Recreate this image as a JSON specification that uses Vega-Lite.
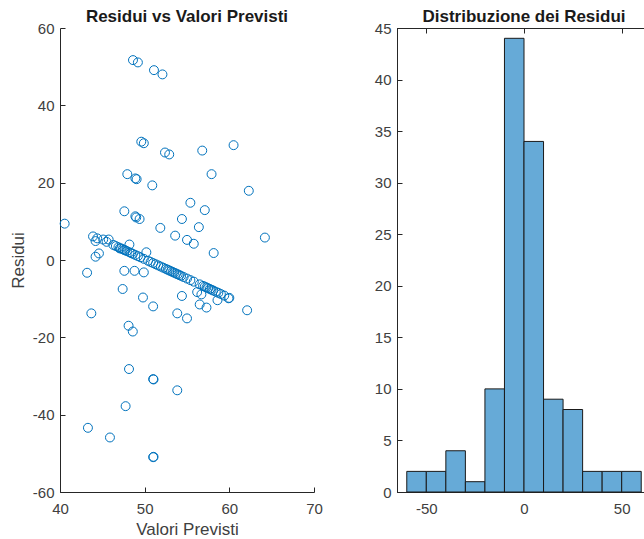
{
  "$schema": "https://vega.github.io/schema/vega-lite/v6.json",
  "autosize": {"type": "pad"},
  "padding": {"left": 9, "top": 7, "right": 0, "bottom": 0},
  "background": "white",
  "config": {
    "font": "Liberation Sans",
    "axis": {
      "grid": false,
      "domainColor": "#262626",
      "domainWidth": 1,
      "tickColor": "#262626",
      "tickSize": -5,
      "labelPadding": 11,
      "labelFlush": false,
      "labelColor": "#404040",
      "labelFontSize": 15,
      "labelFont": "Liberation Sans",
      "labelExpr": "'' + datum.value",
      "titleFont": "Liberation Sans",
      "titleFontSize": 17,
      "titleFontWeight": "normal",
      "titleColor": "#404040"
    },
    "axisX": {"labelPadding": 14, "labelFlush": false},
    "title": {"font": "Liberation Sans", "fontSize": 17, "fontWeight": "bold", "color": "#1a1a1a", "offset": -5, "anchor": "middle"}
  },
  "datasets": {
    "scatter": [
      {"v": 48.62, "r": 51.7}, {"v": 49.2, "r": 51.1}, {"v": 51.1, "r": 49.1}, {"v": 52.1, "r": 48.0},
      {"v": 49.6, "r": 30.6}, {"v": 49.9, "r": 30.2}, {"v": 52.4, "r": 27.8}, {"v": 52.9, "r": 27.3},
      {"v": 56.8, "r": 28.3}, {"v": 60.5, "r": 29.7}, {"v": 47.95, "r": 22.2}, {"v": 48.9, "r": 21.1},
      {"v": 49.05, "r": 20.9}, {"v": 50.9, "r": 19.3}, {"v": 57.9, "r": 22.2}, {"v": 62.3, "r": 17.9},
      {"v": 47.6, "r": 12.6}, {"v": 48.9, "r": 11.3}, {"v": 49.4, "r": 10.6}, {"v": 55.4, "r": 14.8},
      {"v": 57.1, "r": 12.9}, {"v": 54.4, "r": 10.6}, {"v": 49.0, "r": 11.0}, {"v": 40.55, "r": 9.4},
      {"v": 51.85, "r": 8.3}, {"v": 56.4, "r": 8.5}, {"v": 53.6, "r": 6.3}, {"v": 55.0, "r": 5.2},
      {"v": 55.8, "r": 4.2}, {"v": 64.2, "r": 5.8}, {"v": 58.15, "r": 1.8}, {"v": 43.9, "r": 6.1},
      {"v": 44.4, "r": 5.6}, {"v": 44.2, "r": 4.9}, {"v": 45.1, "r": 5.3}, {"v": 45.75, "r": 5.3},
      {"v": 45.5, "r": 4.7}, {"v": 48.2, "r": 4.0}, {"v": 44.2, "r": 0.85}, {"v": 44.6, "r": 1.7},
      {"v": 47.05, "r": 3.0}, {"v": 47.6, "r": 2.6}, {"v": 50.2, "r": 2.0}, {"v": 43.2, "r": -3.3},
      {"v": 47.6, "r": -2.8}, {"v": 48.8, "r": -2.8}, {"v": 49.9, "r": -3.2}, {"v": 47.4, "r": -7.5},
      {"v": 49.8, "r": -9.7}, {"v": 54.4, "r": -9.3}, {"v": 59.9, "r": -9.9}, {"v": 43.7, "r": -13.8},
      {"v": 53.85, "r": -13.8}, {"v": 55.0, "r": -15.1}, {"v": 51.0, "r": -12.0}, {"v": 56.5, "r": -11.5},
      {"v": 57.3, "r": -12.3}, {"v": 62.1, "r": -13.0}, {"v": 48.1, "r": -17.0}, {"v": 48.6, "r": -18.5},
      {"v": 58.6, "r": -10.4}, {"v": 48.15, "r": -28.2}, {"v": 51.0, "r": -30.8}, {"v": 51.05, "r": -30.9},
      {"v": 53.85, "r": -33.7}, {"v": 47.75, "r": -37.8}, {"v": 43.3, "r": -43.4}, {"v": 45.9, "r": -45.9},
      {"v": 51.0, "r": -51.0}, {"v": 51.05, "r": -50.9},
      {"v": 46.3, "r": 3.9}, {"v": 46.6, "r": 3.6}, {"v": 46.9, "r": 3.3}, {"v": 47.2, "r": 3.0},
      {"v": 47.4, "r": 2.8}, {"v": 47.7, "r": 2.5}, {"v": 47.9, "r": 2.3}, {"v": 48.2, "r": 2.0},
      {"v": 48.4, "r": 1.8}, {"v": 48.6, "r": 1.6}, {"v": 48.9, "r": 1.3}, {"v": 49.2, "r": 1.0},
      {"v": 49.5, "r": 0.7}, {"v": 49.9, "r": 0.3},
      {"v": 50.4, "r": -0.2}, {"v": 50.7, "r": -0.5}, {"v": 51.0, "r": -0.8}, {"v": 51.3, "r": -1.1},
      {"v": 51.6, "r": -1.4}, {"v": 51.9, "r": -1.7}, {"v": 52.2, "r": -2.0}, {"v": 52.5, "r": -2.3},
      {"v": 52.7, "r": -2.5}, {"v": 52.9, "r": -2.7}, {"v": 53.1, "r": -2.9}, {"v": 53.3, "r": -3.1},
      {"v": 53.5, "r": -3.3}, {"v": 53.7, "r": -3.5}, {"v": 53.9, "r": -3.7}, {"v": 54.1, "r": -3.9},
      {"v": 54.3, "r": -4.1}, {"v": 54.6, "r": -4.4}, {"v": 55.0, "r": -4.8}, {"v": 55.4, "r": -5.2},
      {"v": 55.8, "r": -5.6}, {"v": 56.2, "r": -8.3}, {"v": 56.5, "r": -6.3}, {"v": 56.7, "r": -8.9},
      {"v": 56.9, "r": -6.7}, {"v": 57.1, "r": -6.9}, {"v": 57.3, "r": -7.1}, {"v": 57.5, "r": -7.3},
      {"v": 57.7, "r": -7.5}, {"v": 57.9, "r": -7.7}, {"v": 58.1, "r": -7.9}, {"v": 58.4, "r": -8.2},
      {"v": 58.7, "r": -8.5}, {"v": 59.0, "r": -8.8}, {"v": 59.4, "r": -9.2}, {"v": 60.0, "r": -9.8}
    ],
    "hist": [
      {"start": -60, "end": -50, "count": 2},
      {"start": -50, "end": -40, "count": 2},
      {"start": -40, "end": -30, "count": 4},
      {"start": -30, "end": -20, "count": 1},
      {"start": -20, "end": -10, "count": 10},
      {"start": -10, "end": 0, "count": 44},
      {"start": 0, "end": 10, "count": 34},
      {"start": 10, "end": 20, "count": 9},
      {"start": 20, "end": 30, "count": 8},
      {"start": 30, "end": 40, "count": 2},
      {"start": 40, "end": 50, "count": 2},
      {"start": 50, "end": 60, "count": 2}
    ]
  },
  "spacing": 50,
  "hconcat": [
    {
      "width": 254,
      "height": 464,
      "view": {"stroke": null},
      "title": {"text": "Residui vs Valori Previsti"},
      "data": {"name": "scatter"},
      "mark": {"type": "point", "shape": "circle", "filled": false, "size": 80, "strokeWidth": 1, "color": "#0072BD", "opacity": 1, "clip": false},
      "encoding": {
        "x": {"field": "v", "type": "quantitative", "title": "Valori Previsti",
              "scale": {"domain": [40, 70], "nice": false, "zero": false},
              "axis": {"values": [40, 50, 60, 70], "titlePadding": 5}},
        "y": {"field": "r", "type": "quantitative", "title": "Residui",
              "scale": {"domain": [-60, 60], "nice": false, "zero": false},
              "axis": {"values": [-60, -40, -20, 0, 20, 40, 60], "titlePadding": 5}}
      }
    },
    {
      "width": 254,
      "height": 464,
      "view": {"stroke": "#262626", "strokeWidth": 1},
      "title": {"text": "Distribuzione dei Residui"},
      "data": {"name": "hist"},
      "layer": [
        {
          "mark": {"type": "bar", "fill": "#66AAD7", "stroke": "#1a1a1a", "strokeWidth": 1, "opacity": 1},
          "encoding": {
            "x": {"field": "start", "type": "quantitative", "title": null,
                  "scale": {"domain": [-65, 65], "nice": false, "zero": false},
                  "axis": {"values": [-50, 0, 50]}},
            "x2": {"field": "end"},
            "y": {"field": "count", "type": "quantitative", "title": null,
                  "scale": {"domain": [0, 45], "nice": false, "zero": true},
                  "axis": {"values": [0, 5, 10, 15, 20, 25, 30, 35, 40, 45]}},
            "y2": {"datum": 0}
          }
        },
        {
          "mark": {"type": "bar", "opacity": 0},
          "encoding": {
            "x": {"field": "start", "type": "quantitative", "title": null,
                  "axis": {"orient": "top", "values": [-50, 0, 50], "labels": false}},
            "x2": {"field": "end"},
            "y": {"field": "count", "type": "quantitative", "title": null},
            "y2": {"datum": 0}
          }
        }
      ],
      "resolve": {"axis": {"x": "independent"}}
    }
  ]
}
